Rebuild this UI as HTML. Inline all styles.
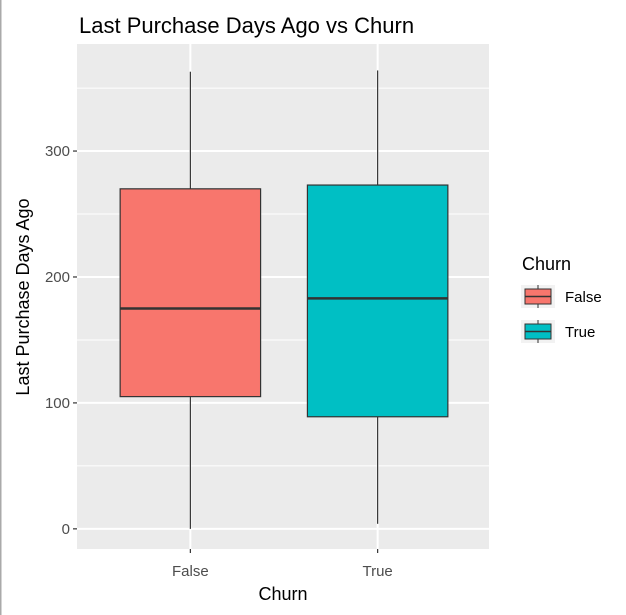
<!DOCTYPE html>
<html><head><meta charset="utf-8"><style>
body{margin:0;background:#fff;}
svg{display:block;font-family:"Liberation Sans",sans-serif;}
</style></head><body>
<svg id="chart" width="626" height="615">
<rect x="0" y="0" width="1.5" height="615" fill="#aaa"/>
<text x="79" y="33" font-size="22" fill="#000">Last Purchase Days Ago vs Churn</text>
<rect x="77" y="44" width="412" height="505" fill="#ebebeb"/>
<g id="grid"></g><g id="boxes"></g><g id="axes"></g>
<text x="283" y="600" font-size="18" text-anchor="middle" fill="#000">Churn</text>
<text transform="translate(29,297) rotate(-90)" font-size="18" text-anchor="middle" fill="#000">Last Purchase Days Ago</text>
<g>
<text x="522" y="270" font-size="18" fill="#000">Churn</text>
<g id="legend"></g>
</g>
</svg>
<script>
const categories=["False","True"];
const whiskerLow=[0,4];
const q1=[105,89];
const medians=[175,183];
const q3=[270,273];
const whiskerHigh=[363,364];
const fills=["#f8766d","#00bfc4"];
const yTicks=[0,100,200,300];
const NS="http://www.w3.org/2000/svg";
const L=77,R=489,T=44,B=549;
const yMin=-16,yMax=385;
function y(v){return B-(v-yMin)/(yMax-yMin)*(B-T);}
function xc(i){const n=categories.length;return L+1+(R-L)*(i+1-0.4)/(n+0.2);}
function el(t,a,p){const e=document.createElementNS(NS,t);for(const k in a)e.setAttribute(k,a[k]);p.appendChild(e);return e;}
const grid=document.getElementById('grid'),boxes=document.getElementById('boxes'),axes=document.getElementById('axes'),leg=document.getElementById('legend');
const step=(R-L)/(categories.length+0.2);
yTicks.forEach((t,i)=>{
 if(i<yTicks.length-1){const m=el('line',{x1:L,x2:R,y1:y(t+50),y2:y(t+50),stroke:'#fff','stroke-width':1},grid);
 }
 const g=el('line',{x1:L,x2:R,y1:y(t),y2:y(t),stroke:'#fff','stroke-width':2},grid);
 
 const tk=el('line',{x1:L-4,x2:L,y1:y(t),y2:y(t),stroke:'#333','stroke-width':1.2},axes);
 
 const lb=el('text',{x:L-7,y:y(t)+5,'font-size':15,'text-anchor':'end',fill:'#4d4d4d'},axes);
 lb.textContent=t;
});
{const m=el('line',{x1:L,x2:R,y1:y(350),y2:y(350),stroke:'#fff','stroke-width':1},grid);
}
categories.forEach((c,i)=>{
 const cx=xc(i),w=step*0.75;
 const vg=el('line',{x1:cx,x2:cx,y1:T,y2:B,stroke:'#fff','stroke-width':2},grid);
 
 const g=el('g',{},boxes);
 const w1=el('line',{x1:cx,x2:cx,y1:y(whiskerHigh[i]),y2:y(q3[i]),stroke:'#333','stroke-width':1.2},g);
 
 const w2=el('line',{x1:cx,x2:cx,y1:y(q1[i]),y2:y(whiskerLow[i]),stroke:'#333','stroke-width':1.2},g);
 
 const r=el('rect',{x:cx-w/2,y:y(q3[i]),width:w,height:y(q1[i])-y(q3[i]),fill:fills[i],stroke:'#333','stroke-width':1.2},g);
 
 const md=el('line',{x1:cx-w/2,x2:cx+w/2,y1:y(medians[i]),y2:y(medians[i]),stroke:'#333','stroke-width':2.5},g);
 
 const tk=el('line',{x1:cx,x2:cx,y1:B,y2:B+4,stroke:'#333','stroke-width':1.2},axes);
 
 const lb=el('text',{x:cx,y:B+27,'font-size':15,'text-anchor':'middle',fill:'#4d4d4d'},axes);
 lb.textContent=c;
 const ly=285+i*35;
 const lg=el('g',{},leg);
 const bg=el('rect',{x:521,y:ly,width:34,height:23,fill:'#f2f2f2'},lg);
 
 const vl=el('line',{x1:538,x2:538,y1:ly,y2:ly+23,stroke:'#333','stroke-width':1},lg);
 
 const kr=el('rect',{x:525,y:ly+4,width:26,height:15,fill:fills[i],stroke:'#333','stroke-width':1},lg);
 
 const kl=el('line',{x1:525,x2:551,y1:ly+11.5,y2:ly+11.5,stroke:'#333','stroke-width':1.5},lg);
 
 const lt=el('text',{x:565,y:ly+17,'font-size':15,fill:'#000'},lg);
 lt.textContent=c;
});
</script>
</body></html>
